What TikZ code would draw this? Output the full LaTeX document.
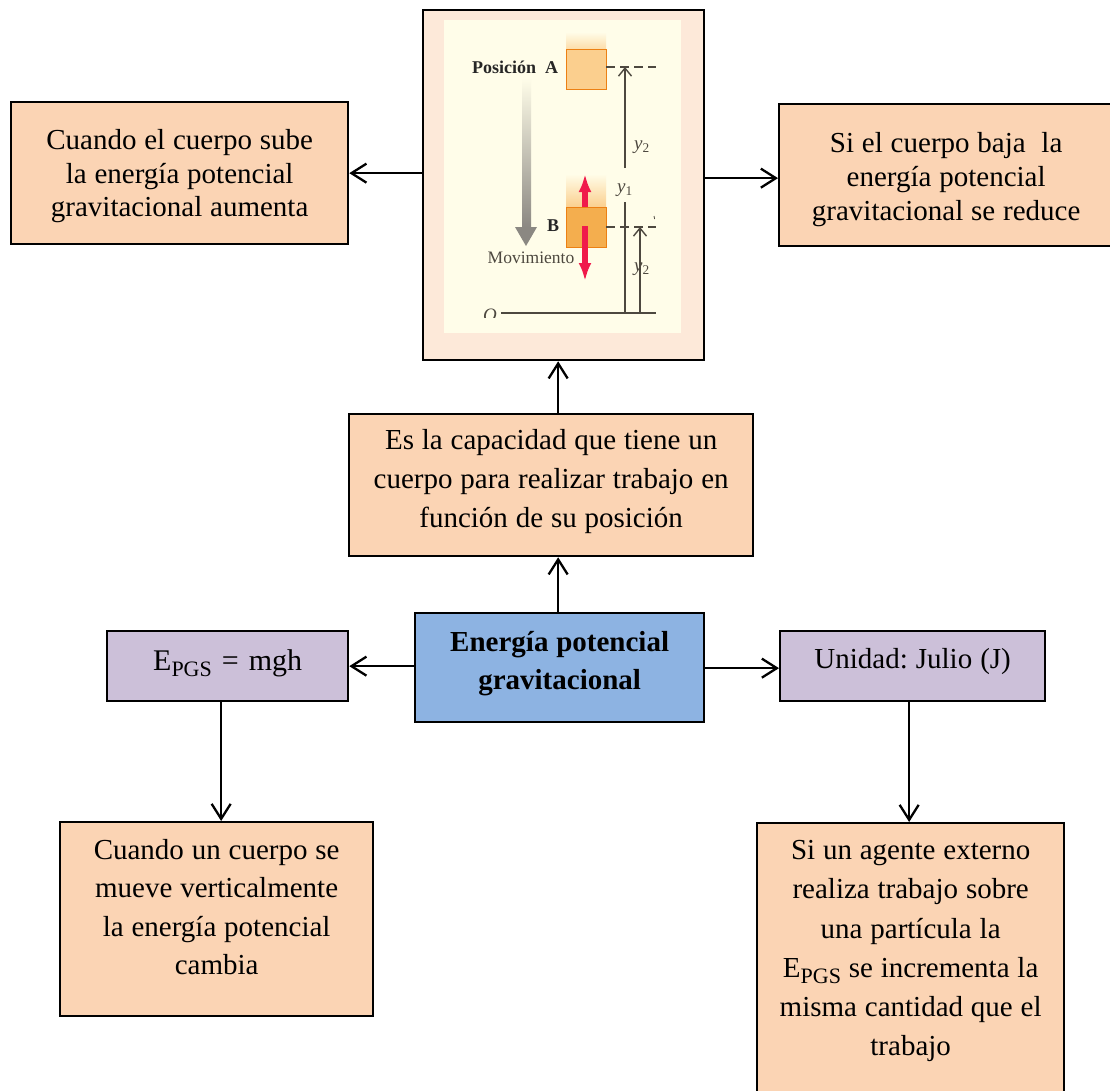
\documentclass[tikz,border=0pt]{standalone}
\usepackage{fontspec}
\setmainfont{Liberation Serif}
\usetikzlibrary{arrows.meta,calc,shadings}
\newcommand{\Epgs}{E\raisebox{-0.2em}{\fontsize{22}{22}\selectfont PGS}}
\definecolor{peach}{HTML}{FBD4B4}
\definecolor{paleframe}{HTML}{FDE9D9}
\definecolor{lilac}{HTML}{CCC0D9}
\definecolor{skyblue}{HTML}{8DB3E2}
\definecolor{cream}{HTML}{FFFDE9}
\definecolor{crate}{HTML}{FBCF8E}
\definecolor{crateB}{HTML}{F4AE4E}
\definecolor{forcered}{HTML}{F01A4B}
\definecolor{inkgrey}{HTML}{4D483F}
\tikzset{
  x=1pt,y=-1pt,
  box/.style={draw=black,line width=2.3pt,align=center,inner sep=0pt,anchor=north west,text=black},
  peachbox/.style={box,fill=peach},
  lilacbox/.style={box,fill=lilac},
  link/.style={draw=black,line width=2.3pt,-{Straight Barb[length=15pt,width=19pt,line width=2.3pt]}},
  dim/.style={draw=inkgrey,line width=1.4pt},
  dimhead/.style={dim,-{Straight Barb[length=8pt,width=13pt,line width=1.4pt]}},
  dashline/.style={draw=inkgrey,line width=1.4pt,dash pattern=on 9pt off 5pt},
  crateedge/.style={draw=orange!70!brown,line width=.6pt},
  force/.style={draw=forcered,line width=5.5pt,-{Latex[length=18pt,width=13pt]}},
}
% #1 = line distance, #2 = centred lines; word gaps are fixed to the set width
\newcommand{\boxtext}[2]{\fontsize{29}{#1}\selectfont\spaceskip=0.27em\relax #2\par}
\begin{document}
\begin{tikzpicture}
\useasboundingbox (0,0) rectangle (1110,1090);
\fill[white] (0,0) rectangle (1110,1090);

% Text boxes
\node[peachbox,minimum width=337pt,minimum height=142pt,text width=337pt] (up) at (10,101)
  {\boxtext{33.5}{Cuando el cuerpo sube\\la energía potencial\\gravitacional aumenta}\vspace{-6pt}};
\node[peachbox,minimum width=334pt,minimum height=142pt,text width=334pt] (down) at (778,103)
  {\boxtext{34}{Si el cuerpo baja\ \ la\\energía potencial\\gravitacional se reduce}\vspace{-8pt}};
\node[draw=black,line width=2.3pt,fill=paleframe,minimum width=281pt,minimum height=350pt,inner sep=0pt,anchor=north west] (frame) at (422,9) {};
\node[peachbox,minimum width=404pt,minimum height=142pt,text width=404pt] (def) at (348,413)
  {\boxtext{39}{Es la capacidad que tiene un\\cuerpo para realizar trabajo en\\función de su posición}\vspace{8pt}};
\node[box,fill=skyblue,minimum width=289pt,minimum height=109pt,text width=289pt] (main) at (414,612)
  {\boxtext{38}{\bfseries Energía potencial\\gravitacional}\vspace{8pt}};
\node[lilacbox,minimum width=241pt,minimum height=70pt,text width=241pt] (formula) at (106,630)
  {\fontsize{30}{31}\selectfont\Epgs\hspace{10pt}=\hspace{10pt}mgh\par\vspace{6pt}};
\node[lilacbox,minimum width=265pt,minimum height=70pt,text width=265pt] (unit) at (779,630)
  {\boxtext{31}{Unidad:\hspace{8pt}Julio\hspace{8pt}(J)}\vspace{9pt}};
\node[peachbox,minimum width=313pt,minimum height=194pt,text width=313pt] (vertical) at (59,821)
  {\boxtext{38.6}{Cuando un cuerpo se\\mueve verticalmente\\la energía potencial\\cambia}\vspace{24pt}};
\node[peachbox,minimum width=307pt,minimum height=272pt,text width=307pt] (agent) at (756,822)
  {\boxtext{39.3}{Si un agente externo\\realiza trabajo sobre\\una partícula la\\\Epgs\ se incrementa la\\misma cantidad que el\\trabajo}\vspace{16pt}};

% Connectors between boxes
\draw[link] ($(frame.west)+(0,-12)$) -- (up.east);
\draw[link] ($(frame.east)+(0,-7)$) -- ($(down.west)+(0,3)$);
\draw[link] ($(def.north)+(7,0)$) -- ($(frame.south)+(-5.5,0)$);
\draw[link] ($(main.north)+(-1.5,0)$) -- ($(def.south)+(7,0)$);
\draw[link] ($(main.west)+(0,-1.5)$) -- (formula.east);
\draw[link] ($(main.east)+(0,0.5)$) -- ($(unit.west)+(0,2)$);
\draw[link] ($(formula.south)+(-6.5,0)$) -- ($(vertical.north)+(4.5,0)$);
\draw[link] ($(unit.south)+(-3.5,0)$) -- ($(agent.north)+(-1.5,0)$);

% Textbook figure inside the framed box
\fill[cream] (444,20) rectangle (681,333);
\shade[top color=cream,bottom color=crate!70!cream] (566,32) rectangle (606,49);
\draw[crateedge,fill=crate] (566,49) rectangle (606,89);
\shade[top color=cream,bottom color=crate] (566,174) rectangle (606,207);
\draw[crateedge,fill=crateB] (566,207) rectangle (606,247);
\draw[force] (585,207) -- (585,174);
\draw[force] (585,226) -- (585,281);
\shade[top color=cream,bottom color=inkgrey!65!white] (522,78) rectangle (531,227);
\fill[inkgrey!65!white] (515,227) -- (537,227) -- (526,246) -- cycle;

\coordinate (dashA) at (606,67);
\coordinate (dashAend) at (656,67);
\coordinate (dashB) at (606,227);
\coordinate (dashBend) at (656,227);
\coordinate (floorL) at (501,313);
\coordinate (floorR) at (656,313);
\draw[dashline] (dashA) -- (dashAend);
\draw[dashline] (dashB) -- (dashBend);
\draw[draw=inkgrey,line width=2.2pt] (floorL) -- (floorR);
\draw[dimhead] (625,168) -- (625,67);
\draw[dim] (625,202) -- (625,313);
\draw[dimhead] (640,313) -- (640,227);
\draw[inkgrey,line width=.8pt] (654,216) -- (654.6,219);

\node[text=black!85,font=\fontsize{18}{18}\selectfont\bfseries] (labA) at (515,67) {Posición\ \ A};
\node[text=black!85,font=\fontsize{18}{18}\selectfont\bfseries] (labB) at (553,226) {B};
\node[text=inkgrey,font=\fontsize{17.5}{18}\selectfont] (labMove) at (531,258) {Movimiento};
\node[text=inkgrey,font=\fontsize{19}{19}\selectfont\itshape] (labY2a) at (642,147) {y\textsubscript{\upshape 2}};
\node[text=inkgrey,font=\fontsize{19}{19}\selectfont\itshape] (labY1) at (625,190) {y\textsubscript{\upshape 1}};
\node[text=inkgrey,font=\fontsize{19}{19}\selectfont\itshape] (labY2b) at (642,269) {y\textsubscript{\upshape 2}};
\begin{scope}
  \clip (470,305) rectangle (500,317);
  \node[text=inkgrey,font=\fontsize{19}{19}\selectfont\itshape] (labO) at (490,315) {O};
\end{scope}
\end{tikzpicture}
\end{document}
